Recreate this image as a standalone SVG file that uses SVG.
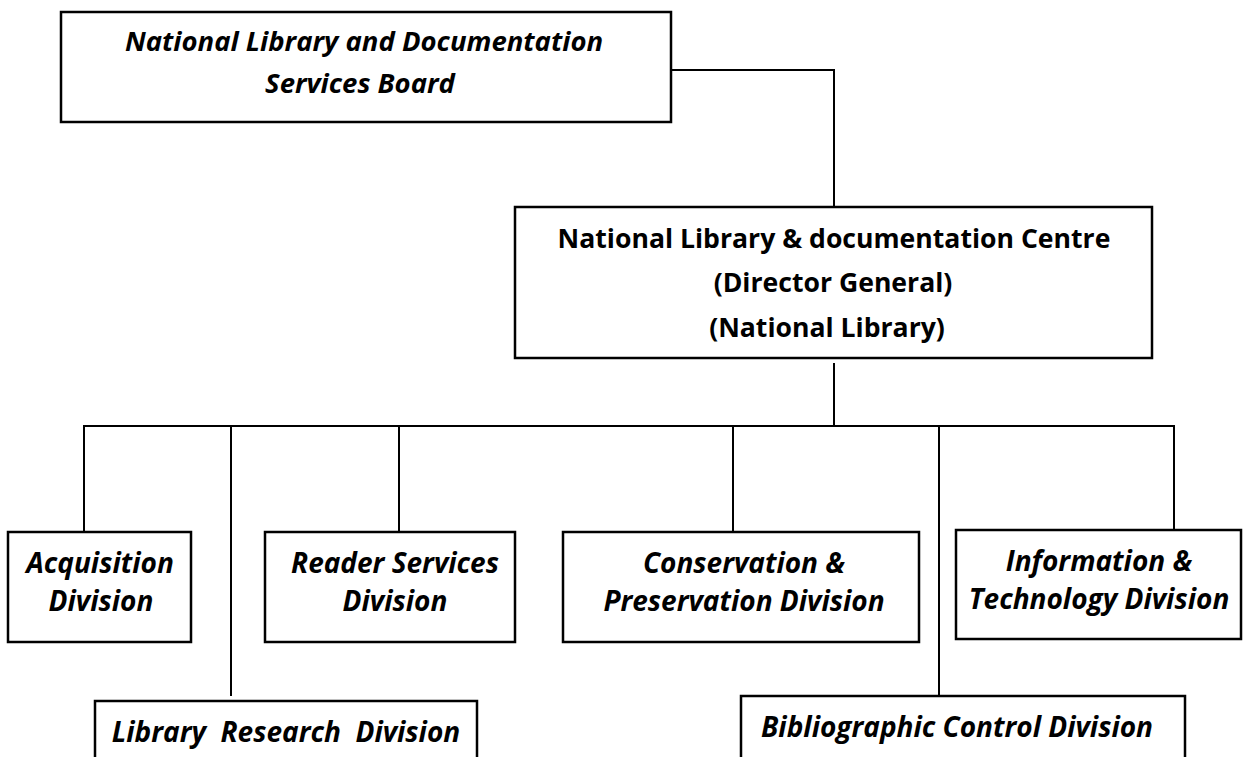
<svg xmlns="http://www.w3.org/2000/svg" width="1244" height="757" viewBox="0 0 1244 757">
<style>
.box{fill:#fff;stroke:#000;stroke-width:2.5}
.ln{fill:none;stroke:#000;stroke-width:2}
.t{font-family:"Open Sans","Liberation Sans",sans-serif;font-weight:bold;font-size:28px;fill:#000;text-anchor:middle}
.i{font-style:italic}
.top{font-size:27.5px}
.mid{font-size:26.6px}
</style>
<rect width="1244" height="757" fill="#fff"/>
<g id="connectors">
<polyline class="ln" points="671,70 834,70 834,207"/>
<line class="ln" x1="834" y1="363" x2="834" y2="426"/>
<line class="ln" x1="83" y1="426" x2="1175" y2="426"/>
<line class="ln" x1="84" y1="426" x2="84" y2="531"/>
<line class="ln" x1="231" y1="426" x2="231" y2="696"/>
<line class="ln" x1="399" y1="426" x2="399" y2="531"/>
<line class="ln" x1="733" y1="426" x2="733" y2="531"/>
<line class="ln" x1="939" y1="426" x2="939" y2="695"/>
<line class="ln" x1="1174" y1="426" x2="1174" y2="529"/>
</g>
<g id="board">
<rect class="box" x="61" y="12" width="610" height="110"/>
<text class="t i top" x="364" y="51">National Library and Documentation</text>
<text class="t i top" x="360" y="93">Services Board</text>
</g>
<g id="centre">
<rect class="box" x="515" y="207" width="637" height="151"/>
<text class="t mid" x="834" y="248">National Library &amp; documentation Centre</text>
<text class="t mid" x="833" y="292">(Director General)</text>
<text class="t mid" x="827" y="337">(National Library)</text>
</g>
<g id="acquisition">
<rect class="box" x="8" y="532" width="183" height="110"/>
<text class="t i" x="100" y="573">Acquisition</text>
<text class="t i" x="101" y="611">Division</text>
</g>
<g id="reader">
<rect class="box" x="265" y="532" width="250" height="110"/>
<text class="t i" x="395" y="573">Reader Services</text>
<text class="t i" x="395" y="611">Division</text>
</g>
<g id="conservation">
<rect class="box" x="563" y="532" width="356" height="110"/>
<text class="t i" x="744" y="573">Conservation &amp;</text>
<text class="t i" x="744" y="611">Preservation Division</text>
</g>
<g id="information">
<rect class="box" x="956" y="530" width="285" height="109"/>
<text class="t i" x="1099" y="571">Information &amp;</text>
<text class="t i" x="1099" y="609">Technology Division</text>
</g>
<g id="research">
<rect class="box" x="95" y="701" width="382" height="70"/>
<text class="t i" x="286" y="742" xml:space="preserve">Library  Research  Division</text>
</g>
<g id="bibliographic">
<rect class="box" x="741" y="696" width="444" height="70"/>
<text class="t i" x="957" y="737">Bibliographic Control Division</text>
</g>
</svg>
